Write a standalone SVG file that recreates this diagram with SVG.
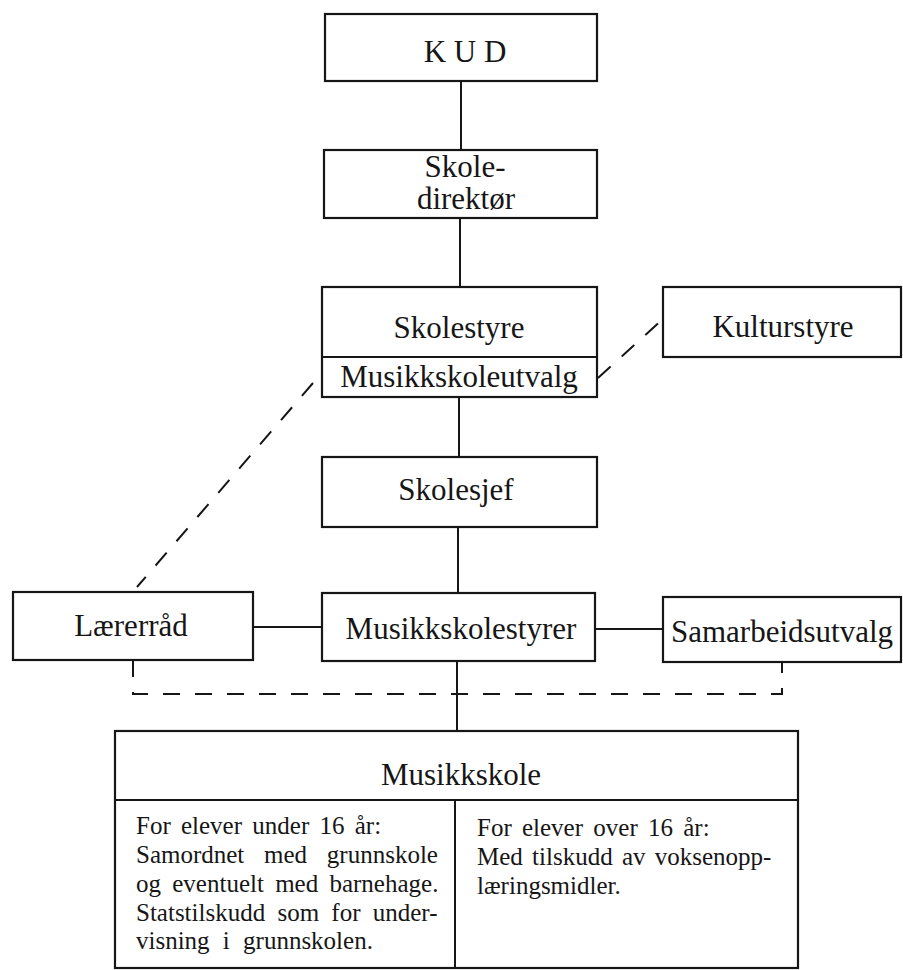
<svg xmlns="http://www.w3.org/2000/svg" width="903" height="970" viewBox="0 0 903 970">
<style>
.box{fill:#fff;stroke:#161616;stroke-width:2.2}
.ln{fill:none;stroke:#161616;stroke-width:2}
.dash{fill:none;stroke:#161616;stroke-width:2;stroke-dasharray:17 15}
.lbl{font-family:"Liberation Serif","Times New Roman",serif;font-size:31px;fill:#161616;text-anchor:middle}
.sm{font-family:"Liberation Serif","Times New Roman",serif;font-size:25px;fill:#161616;word-spacing:4px}
</style>
<rect width="903" height="970" fill="#fff"/>
<g id="connectors">
<line class="ln" x1="461" y1="81" x2="461" y2="150"/>
<line class="ln" x1="460" y1="218" x2="460" y2="287"/>
<line class="ln" x1="459" y1="397" x2="459" y2="457"/>
<line class="ln" x1="458" y1="527" x2="458" y2="593"/>
<line class="ln" x1="457" y1="661" x2="457" y2="731"/>
<line class="ln" x1="253" y1="627" x2="322" y2="627"/>
<line class="ln" x1="595" y1="629" x2="663" y2="629"/>
<line class="dash" x1="598" y1="378" x2="664" y2="318"/>
<line class="dash" x1="313" y1="383" x2="137" y2="587"/>
<path class="dash" d="M133,660 V694 H782 V662"/>
</g>
<g id="kud">
<rect class="box" x="325" y="14" width="272" height="67"/>
<text class="lbl" x="465" y="62" font-size="32">K U D</text>
</g>
<g id="skoledirektor">
<rect class="box" x="324" y="150" width="273" height="68"/>
<text class="lbl" x="465" y="177" font-size="28">Skole-</text>
<text class="lbl" x="466" y="209" font-size="28">direktør</text>
</g>
<g id="skolestyre">
<rect class="box" x="322" y="287" width="275" height="110"/>
<line class="ln" x1="322" y1="357" x2="597" y2="357"/>
<text class="lbl" x="459" y="338">Skolestyre</text>
<text class="lbl" x="459" y="387">Musikkskoleutvalg</text>
</g>
<g id="kulturstyre">
<rect class="box" x="663" y="287" width="238" height="70"/>
<text class="lbl" x="783" y="337">Kulturstyre</text>
</g>
<g id="skolesjef">
<rect class="box" x="322" y="457" width="275" height="70"/>
<text class="lbl" x="456" y="500">Skolesjef</text>
</g>
<g id="larerrad">
<rect class="box" x="13" y="592" width="240" height="68"/>
<text class="lbl" x="131" y="636">Lærerråd</text>
</g>
<g id="musikkskolestyrer">
<rect class="box" x="322" y="593" width="273" height="68"/>
<text class="lbl" x="461" y="639">Musikkskolestyrer</text>
</g>
<g id="samarbeidsutvalg">
<rect class="box" x="663" y="597" width="238" height="65"/>
<text class="lbl" x="782" y="642" font-size="30">Samarbeidsutvalg</text>
</g>
<g id="musikkskole">
<rect class="box" x="115" y="731" width="683" height="237"/>
<line class="ln" x1="115" y1="800" x2="798" y2="800"/>
<line class="ln" x1="455" y1="800" x2="455" y2="968"/>
<text class="lbl" x="461" y="785">Musikkskole</text>
<text class="sm" x="136" y="834">For elever under 16 år:</text>
<text class="sm" x="136" y="863" style="word-spacing:13.5px">Samordnet med grunnskole</text>
<text class="sm" x="136" y="892" style="word-spacing:5px">og eventuelt med barnehage.</text>
<text class="sm" x="136" y="921" style="word-spacing:6px">Statstilskudd som for under-</text>
<text class="sm" x="136" y="949" style="word-spacing:7px">visning i grunnskolen.</text>
<text class="sm" x="477" y="836">For elever over 16 år:</text>
<text class="sm" x="477" y="865" style="word-spacing:3px">Med tilskudd av voksenopp-</text>
<text class="sm" x="477" y="894">læringsmidler.</text>
</g>
</svg>
